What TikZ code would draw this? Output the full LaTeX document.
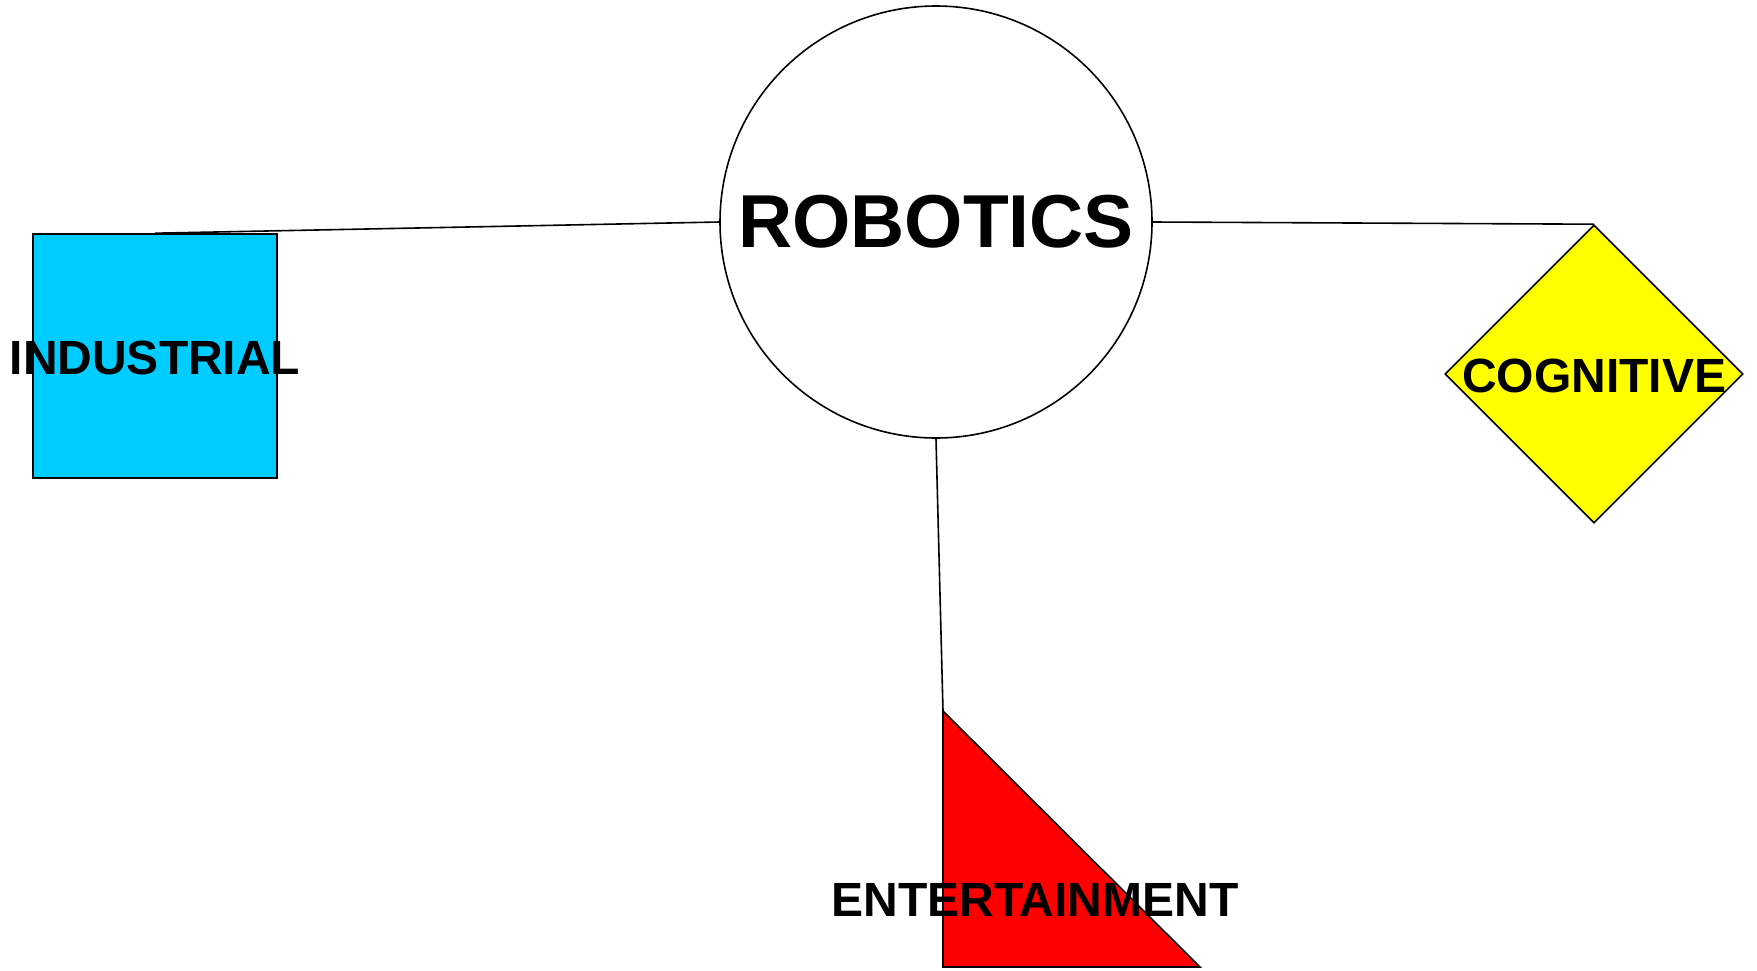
\documentclass[tikz,border=0pt]{standalone}
\usepackage{fontspec}
\setmainfont{Liberation Sans}
\usetikzlibrary{shapes.geometric}
\definecolor{skyfill}{RGB}{0,204,255}
\definecolor{signyellow}{RGB}{255,255,0}
\definecolor{signred}{RGB}{255,0,0}

\tikzset{
  shapebox/.style={draw=black, line width=1.6pt},
  link/.style={draw=black, line width=1.6pt},
  hubtext/.style={font=\fontsize{75}{80}\selectfont\bfseries},
  tag/.style={font=\fontsize{48}{52}\selectfont\bfseries, inner sep=0pt, yshift=-2pt},
}

\begin{document}
\begin{tikzpicture}[x=1pt,y=-1pt]
  \useasboundingbox (0,0) rectangle (1757,970);
  \node [circle, shapebox, fill=white, minimum size=432pt, hubtext] (robotics) at (936,222) {ROBOTICS};
  \node [rectangle, shapebox, fill=skyfill, minimum size=244pt, inner sep=0pt,
         label={[tag]center:INDUSTRIAL}] (industrial) at (155,356) {};
  \node [diamond, shapebox, fill=signyellow, minimum size=298pt, inner sep=0pt,
         label={[tag]center:COGNITIVE}] (cognitive) at (1594,374) {};
  \coordinate (ent top) at (943,711);
  \coordinate (ent corner) at (943,967);
  \coordinate (ent tip) at (1200,967);
  \draw [shapebox, fill=signred] (ent top) -- (ent corner) -- (ent tip) -- cycle;
  \node [tag] (entertainment) at (1035,898) {ENTERTAINMENT};
  \draw [link] (robotics.west) -- (industrial.north);
  \draw [link] (robotics.east) -- (cognitive.north);
  \draw [link] (robotics.south) -- (ent top);
\end{tikzpicture}
\end{document}
